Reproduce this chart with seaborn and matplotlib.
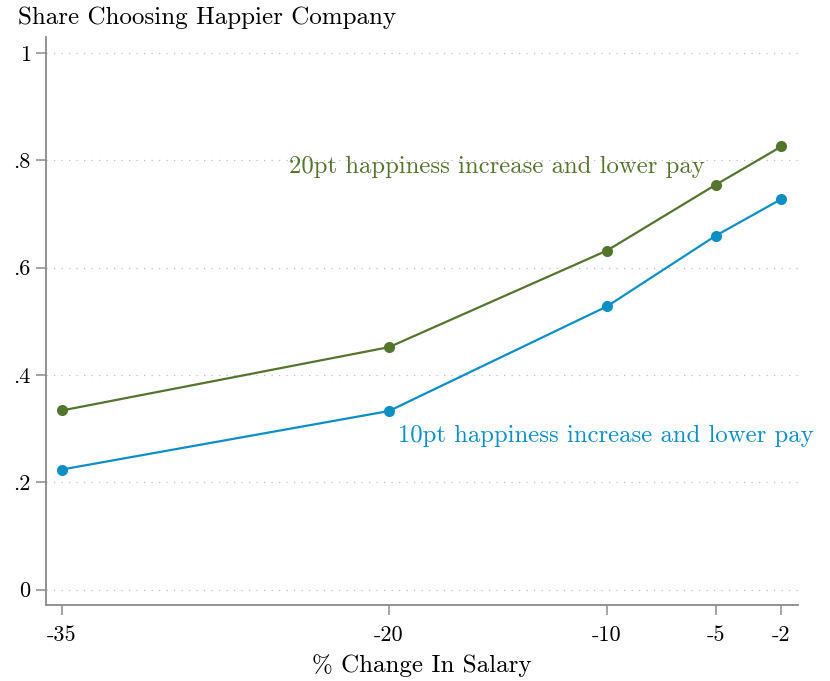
import pandas as pd
import matplotlib
matplotlib.use("Agg")
import matplotlib.pyplot as plt
import seaborn as sns

# --- data ---
salary_change = [-35, -20, -10, -5, -2]
share_20pt = [0.334, 0.452, 0.632, 0.755, 0.826]
share_10pt = [0.224, 0.333, 0.528, 0.660, 0.728]
series_names = ["20pt happiness increase and lower pay",
                "10pt happiness increase and lower pay"]
y_ticks = [0, 0.2, 0.4, 0.6, 0.8, 1]
y_tick_labels = ["0", ".2", ".4", ".6", ".8", "1"]
x_tick_labels = ["-35", "-20", "-10", "-5", "-2"]

green = "#55752f"
blue = "#0c8fc4"

df = pd.DataFrame({
    "change": salary_change * 2,
    "share": share_20pt + share_10pt,
    "group": [series_names[0]] * 5 + [series_names[1]] * 5,
})

sns.set_style("white")
plt.rcParams["font.family"] = ["cmr10", "DejaVu Serif"]
plt.rcParams["axes.formatter.use_mathtext"] = True
plt.rcParams["text.color"] = "black"
plt.rcParams["axes.labelcolor"] = "black"
plt.rcParams["xtick.color"] = "black"
plt.rcParams["ytick.color"] = "black"

fig = plt.figure(figsize=(8.3, 6.81), dpi=100)
ax = fig.add_axes([46 / 830, 1 - 605 / 681, (798 - 46) / 830, (605 - 37) / 681])

sns.lineplot(data=df, x="change", y="share", hue="group",
             palette={series_names[0]: green, series_names[1]: blue},
             marker="o", markersize=8, markeredgewidth=0, linewidth=1.6,
             legend=False, ax=ax, zorder=3)

ax.set_xlim(-35.73, -1.24)
ax.set_ylim(-0.0285, 1.03)
ax.set_xticks(salary_change)
ax.set_xticklabels(x_tick_labels)
ax.set_yticks(y_ticks)
ax.set_yticklabels(y_tick_labels)

for y in y_ticks:
    ax.axhline(y, color="#bdbdbd", linestyle=(0, (1, 5)), linewidth=0.9, zorder=1)

for side in ["top", "right"]:
    ax.spines[side].set_visible(False)
for side in ["left", "bottom"]:
    ax.spines[side].set_color("#8a8a8a")
    ax.spines[side].set_linewidth(1.3)

ax.tick_params(axis="both", direction="out", length=7, width=1.1,
               color="#8a8a8a", labelcolor="black", labelsize=16,
               bottom=True, left=True, pad=8)
ax.tick_params(axis="y", pad=4)

ax.set_xlabel("% Change In Salary", fontsize=18, labelpad=6)
ax.set_ylabel("")
fig.text(18 / 830, 1 - 18 / 681, "Share Choosing Happier Company",
         fontsize=18, va="center", ha="left")

ax.text(-24.58, 0.788, series_names[0], color=green, fontsize=17.8, ha="left", va="center")
ax.text(-19.59, 0.287, series_names[1], color=blue, fontsize=17.8, ha="left", va="center")

fig.savefig("out.png", dpi=100)
